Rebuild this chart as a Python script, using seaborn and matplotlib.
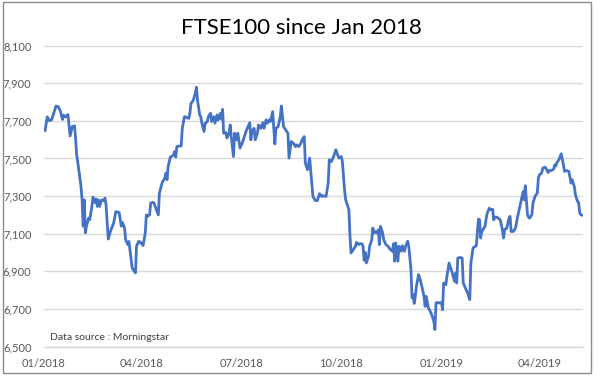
import pandas as pd
import seaborn as sns
import matplotlib.pyplot as plt
from matplotlib.patches import Rectangle
from matplotlib.ticker import FuncFormatter

# FTSE100 closing levels.
# x values are days since start_date, y values are index points.
start_date = "2018-01-01"

days_jan_mar = [1, 3, 5, 7, 9, 11, 13, 15, 17, 18, 20, 22, 23, 24, 26, 28, 29, 30, 32, 34,
                35, 36, 37, 38, 39, 41, 42, 44, 45, 47, 48, 49, 50, 51, 53, 55, 56, 57, 59, 61,
                64, 66, 69, 70, 71, 72, 74, 75, 77, 78, 80, 81]
close_jan_mar = [7647, 7721, 7700, 7705, 7742, 7778, 7775, 7753, 7707, 7730, 7720, 7734, 7675, 7620, 7670, 7673, 7608, 7520, 7440, 7351,
                 7280, 7140, 7280, 7105, 7140, 7183, 7175, 7245, 7295, 7265, 7285, 7245, 7280, 7245, 7280, 7275, 7289, 7255, 7072, 7112,
                 7157, 7218, 7213, 7175, 7140, 7160, 7130, 7068, 7042, 7059, 6962, 6918]

days_mar_jun = [84, 85, 87, 89, 91, 93, 94, 95, 97, 98, 100, 101, 103, 105, 106, 108, 109, 111, 112, 113,
                114, 116, 117, 119, 120, 121, 122, 124, 126, 127, 129, 131, 133, 134, 135, 137, 139, 140, 141, 143,
                144, 145, 147, 148, 150, 151, 153, 154, 156, 157, 159, 160, 162, 163, 164, 165, 167, 168, 170]
close_mar_jun = [6892, 7034, 7060, 7052, 7037, 7104, 7200, 7192, 7200, 7263, 7267, 7263, 7232, 7200, 7316, 7360, 7378, 7395, 7422, 7387,
                 7457, 7507, 7510, 7519, 7537, 7507, 7563, 7566, 7566, 7660, 7722, 7718, 7713, 7740, 7793, 7807, 7847, 7878, 7810, 7731,
                 7722, 7687, 7643, 7687, 7696, 7722, 7740, 7696, 7722, 7687, 7731, 7705, 7740, 7709, 7761, 7634, 7638, 7608, 7634]

days_jun_sep = [171, 172, 174, 175, 177, 178, 180, 182, 184, 186, 188, 189, 190, 191, 193, 194, 196, 197, 199, 201,
                202, 204, 205, 207, 208, 210, 212, 213, 215, 217, 218, 220, 222, 224, 225, 227, 229, 231, 232, 234,
                236, 237, 239, 240, 242, 244, 245, 247, 249, 251, 253, 255, 256, 259, 261, 262]
close_jun_sep = [7678, 7616, 7510, 7634, 7599, 7634, 7555, 7581, 7616, 7651, 7678, 7690, 7599, 7643, 7660, 7599, 7634, 7678, 7660, 7690,
                 7660, 7705, 7687, 7705, 7696, 7749, 7577, 7660, 7669, 7722, 7779, 7669, 7651, 7634, 7502, 7590, 7581, 7563, 7572, 7563,
                 7581, 7599, 7616, 7475, 7440, 7502, 7431, 7298, 7277, 7276, 7313, 7298, 7302, 7298, 7369, 7493]

days_sep_dec = [264, 266, 268, 270, 271, 273, 274, 276, 277, 279, 280, 281, 282, 284, 286, 287, 289, 290, 292, 293,
                294, 295, 296, 298, 299, 301, 302, 303, 304, 306, 307, 308, 309, 311, 312, 314, 316, 318, 320, 321,
                322, 323, 325, 326, 328, 329, 331, 332, 334, 335, 337, 338, 339, 340, 341, 342, 344, 345, 347]
close_sep_dec = [7484, 7510, 7546, 7514, 7502, 7510, 7484, 7334, 7281, 7245, 7228, 7086, 6998, 7016, 7033, 7054, 7042, 7047, 7047, 7033,
                 6959, 7001, 6945, 6980, 7033, 7068, 7130, 7104, 7112, 7104, 7121, 7042, 7139, 7104, 7068, 7042, 7033, 7016, 7007, 7047,
                 6954, 7051, 6954, 7033, 7007, 7036, 7007, 7033, 7060, 7033, 6910, 6759, 6777, 6730, 6769, 6821, 6883, 6865, 6821]

days_dec_mar = [349, 350, 351, 353, 354, 356, 358, 359, 360, 361, 363, 365, 366, 367, 369, 370, 372, 374, 375, 377,
                378, 379, 380, 382, 384, 385, 387, 389, 391, 392, 394, 396, 397, 399, 400, 401, 402, 404, 405, 406,
                407, 409, 410, 412, 413, 414, 416, 417, 419, 421, 422, 423, 425, 427, 428, 429, 431, 433]
close_dec_mar = [6767, 6714, 6767, 6705, 6696, 6670, 6635, 6591, 6732, 6735, 6732, 6735, 6696, 6838, 6829, 6873, 6944, 6909, 6891, 6847,
                 6891, 6838, 6971, 6974, 6971, 6838, 6812, 6785, 6750, 6944, 7024, 7033, 7036, 7178, 7174, 7077, 7112, 7130, 7139, 7178,
                 7209, 7236, 7227, 7230, 7174, 7188, 7188, 7183, 7174, 7121, 7077, 7121, 7130, 7183, 7192, 7112, 7112, 7130]

days_mar_may = [435, 437, 439, 440, 441, 442, 444, 445, 446, 448, 449, 451, 453, 454, 455, 457, 458, 460, 461, 463,
                464, 466, 468, 469, 470, 471, 473, 475, 477, 478, 480, 482, 483, 484, 485, 487, 488, 490, 491, 492,
                493, 495]
close_mar_may = [7192, 7245, 7298, 7324, 7280, 7355, 7201, 7188, 7183, 7201, 7262, 7300, 7315, 7395, 7413, 7422, 7448, 7454, 7448, 7425,
                 7436, 7436, 7443, 7466, 7460, 7478, 7495, 7525, 7466, 7431, 7436, 7431, 7401, 7369, 7387, 7351, 7307, 7271, 7266, 7210,
                 7201, 7197]

x_tick_dates = ["2018-01-01", "2018-04-01", "2018-07-01", "2018-10-01", "2019-01-01", "2019-04-01"]
x_tick_labels = ["01/2018", "04/2018", "07/2018", "10/2018", "01/2019", "04/2019"]
y_ticks = [6500, 6700, 6900, 7100, 7300, 7500, 7700, 7900, 8100]

title = "FTSE100 since Jan 2018"
source_note = "Data source : Morningstar"

days = days_jan_mar + days_mar_jun + days_jun_sep + days_sep_dec + days_dec_mar + days_mar_may
close = close_jan_mar + close_mar_jun + close_jun_sep + close_sep_dec + close_dec_mar + close_mar_may
df = pd.DataFrame({
    "date": pd.Timestamp(start_date) + pd.to_timedelta(days, unit="D"),
    "close": close,
})

sns.set_style("white")
plt.rcParams["font.family"] = ["Lato", "DejaVu Sans"]

fig = plt.figure(figsize=(6, 3.77), dpi=100)
ax = fig.add_axes([0.0733, 0.0804, 0.8984, 0.7989])

sns.lineplot(data=df, x="date", y="close", ax=ax, color="#4472C4", linewidth=2)

ax.set_ylim(y_ticks[0], y_ticks[-1])
ax.set_yticks(y_ticks)
ax.yaxis.set_major_formatter(FuncFormatter(lambda v, p: f"{v:,.0f}"))
ax.set_xlim(pd.Timestamp(start_date), df["date"].max())
ax.set_xticks(pd.to_datetime(x_tick_dates))
ax.set_xticklabels(x_tick_labels)
ax.set_xlabel("")
ax.set_ylabel("")

ax.grid(axis="y", color="#d9d9d9", linewidth=1)
ax.grid(axis="x", visible=False)
ax.set_axisbelow(True)
for side in ["left", "top", "right"]:
    ax.spines[side].set_visible(False)
ax.spines["bottom"].set_color("#d9d9d9")
ax.spines["bottom"].set_linewidth(1)

ax.tick_params(axis="y", length=0, pad=9, labelsize=8, labelcolor="#595959")
ax.tick_params(axis="x", length=4, width=1, color="#d9d9d9", direction="out",
               pad=4, labelsize=8, labelcolor="#595959")

fig.text(0.503, 0.925, title, ha="center", va="center", fontsize=16, color="black")
ax.text(0.011, 0.032, source_note, transform=ax.transAxes, ha="left", va="center",
        fontsize=7.5, color="#404040")

# chart border like the spreadsheet frame
fig.patches.append(Rectangle((3 / 600, 4 / 377), 588 / 600, 371 / 377, transform=fig.transFigure,
                             fill=False, edgecolor="#8c8c8c", linewidth=1))

fig.savefig("out.png", dpi=100)
